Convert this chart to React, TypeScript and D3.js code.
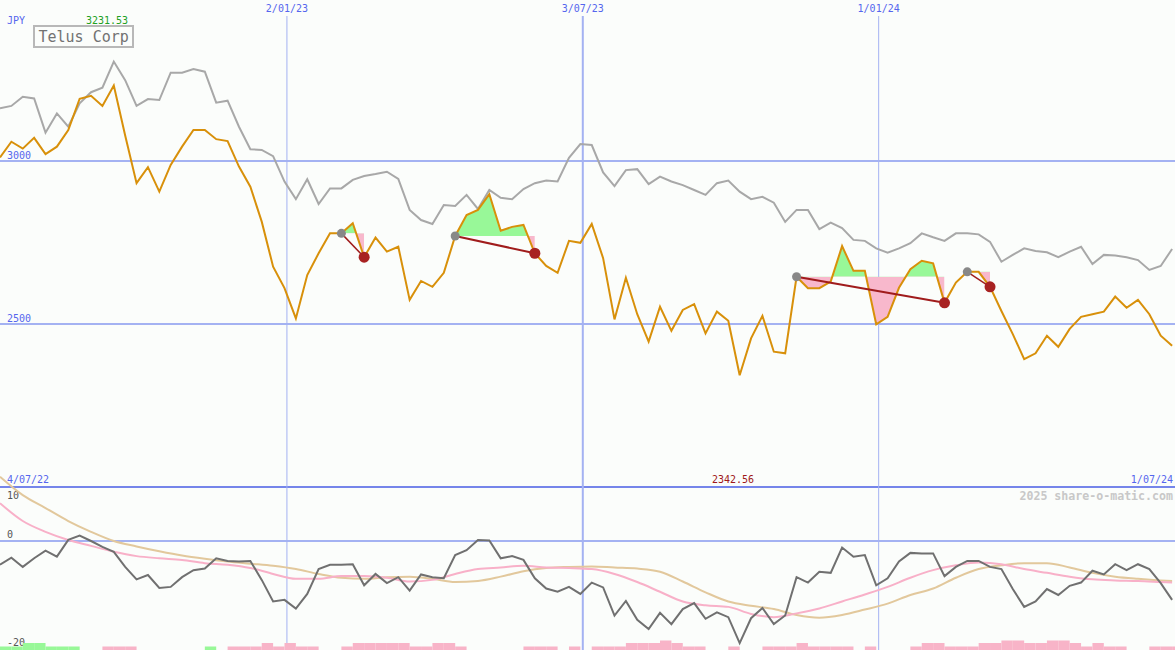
import React from "react";
import * as d3 from "d3";

// ---------- data ----------
const priceOrange = [3011,3059,3038,3071,3021,3044,3095,3191,3200,3169,
  3231.53,3078,2932,2981,2906,2988,3044,3095,3095,3067,
  3061,2983,2921,2814,2676,2610,2517,2650,2717,2778,
  2778,2809,2705,2765,2722,2737,2574,2632,2614,2657,
  2770,2834,2850,2898,2786,2798,2804,2717,2678,2657,
  2755,2749,2807,2702,2514,2642,2530,2446,2553,2479,
  2543,2561,2471,2538,2510,2342.56,2456,2525,2415,2410,
  2645,2610,2610,2630,2739,2663,2663,2499,2522,2611,
  2668,2694,2686,2565,2627,2660,2660,2614,2540,2469,
  2392,2410,2464,2430,2485,2522,2530,2538,2584,2550,
  2574,2530,2464,2433];

const relativeGray = [3162,3169,3197,3192,3087,3146,3105,3177,3211,3225,
  3305,3248,3169,3190,3187,3271,3271,3282,3274,3179,
  3185,3105,3036,3034,3015,2937,2883,2944,2868,2916,
  2916,2942,2954,2960,2967,2945,2850,2819,2807,2865,
  2862,2896,2853,2911,2887,2883,2914,2932,2940,2937,
  3010,3052,3049,2965,2923,2972,2975,2929,2952,2937,
  2926,2911,2896,2932,2940,2906,2883,2890,2872,2813,
  2850,2850,2791,2811,2794,2758,2755,2732,2719,2732,
  2748,2778,2766,2755,2778,2778,2775,2752,2691,2712,
  2732,2724,2720,2705,2722,2737,2684,2712,2710,2705,
  2696,2666,2678,2730];

const momentum = [-4.4,-3.1,-4.8,-3.2,-1.8,-2.9,0.2,1.0,0,-1.1,
  -2.0,-4.8,-7.1,-6.3,-8.7,-8.5,-6.7,-5.4,-5.1,-3.2,
  -3.7,-3.8,-3.7,-7.2,-11.2,-10.9,-12.5,-9.8,-5.2,-4.4,
  -4.4,-4.3,-8.2,-6.1,-7.8,-6.7,-9.2,-6.2,-6.7,-6.9,
  -2.6,-1.7,0.2,0.1,-3.2,-2.8,-3.5,-6.9,-8.8,-9.4,
  -8.5,-9.8,-7.7,-8.6,-13.8,-11.1,-14.6,-16.3,-13.3,-15.4,
  -12.6,-11.5,-14.4,-13.2,-14.1,-18.9,-14.3,-12.4,-15.4,-13.8,
  -6.7,-7.7,-5.7,-5.9,-1.2,-2.9,-2.6,-8.2,-6.9,-3.8,
  -2.2,-2.3,-2.3,-6.5,-4.8,-3.7,-3.7,-4.8,-5.2,-8.9,
  -12.2,-11.2,-8.9,-10.0,-8.3,-7.7,-5.5,-6.2,-4.3,-5.4,
  -4.3,-5.2,-7.8,-10.9];

// smoothed averages, read at every second week (plus the last week)
const smoothIndex = [0,2,4,6,8,10,12,14,16,18,20,22,24,26,28,30,32,34,36,38,40,42,44,46,48,50,
  52,54,56,58,60,62,64,66,68,70,72,74,76,78,80,82,84,86,88,90,92,94,96,98,100,102,103];
const avgPink = [7.0,3.7,1.7,0.2,-0.9,-2.0,-2.8,-3.2,-3.5,-4.1,
  -4.4,-5.0,-6.1,-7.0,-7.0,-6.5,-6.5,-6.8,-7.5,-7.2,
  -6.1,-5.2,-4.9,-4.6,-4.9,-5.0,-5.2,-6.1,-7.6,-9.4,
  -11.2,-11.9,-12.2,-13.5,-14.1,-13.4,-12.5,-11.2,-9.9,-8.5,
  -6.8,-5.4,-4.5,-4.0,-4.3,-5.2,-5.9,-6.6,-7.1,-7.3,
  -7.4,-7.6,-7.7];
const avgTan = [11.9,8.5,6.1,3.7,1.7,0.0,-1.0,-1.9,-2.7,-3.3,
  -3.8,-4.2,-4.6,-5.2,-6.1,-6.8,-7.0,-6.7,-6.6,-7.0,
  -7.6,-7.4,-6.6,-5.6,-5.0,-4.8,-4.7,-4.9,-5.1,-5.7,
  -7.5,-9.5,-11.2,-12.0,-12.6,-13.7,-14.2,-13.7,-12.7,-11.6,
  -10.0,-8.8,-6.8,-5.2,-4.5,-4.1,-4.1,-4.9,-5.9,-6.6,
  -7.0,-7.3,-7.4];

// signal bars: + green, - pink, magnitude 1..3
const signalBars = [1,1,2,2,1,1,1,0,0,-1,
  -1,-1,0,0,0,0,0,0,1,0,
  -1,-1,-1,-2,-1,-2,-1,-1,0,0,
  -1,-2,-2,-2,-2,-2,-1,-1,-2,-2,
  -1,0,0,0,0,0,-1,-1,-1,0,
  -1,0,-1,-1,-1,-2,-2,-2,-3,-2,
  -1,-1,0,0,-1,0,0,-1,-1,-1,
  -2,-1,-1,-1,-1,0,-1,0,0,0,
  -1,-2,-2,-1,-1,-1,-2,-2,-3,-3,
  -2,-2,-3,-3,-2,-1,-2,-1,-1,0,
  0,-1,-1,-1];

// trend patterns: [start week, end week]
const patterns: [number, number][] = [[30, 32], [40, 47], [70, 83], [85, 87]];

const gridDates = [new Date(2023, 0, 2), new Date(2023, 6, 3), new Date(2024, 0, 1)];
const gridLabels = ["2/01/23", "3/07/23", "1/01/24"];
const gridWidths = [1, 2, 1];
const priceTicks = [3000, 2500];
const lowTicks = [10, 0, -20];

const START = new Date(2022, 6, 9, 12);
const weekDates = priceOrange.map((_, i) => d3.timeDay.offset(START, 7 * i));

// ---------- chart ----------
const W = 1175, H = 650;
const BG = "#fbfdfb";
const GRID = "#a4b2f2";
const MONO = "DejaVu Sans Mono, monospace";

export default function App() {
  const x = d3.scaleTime().domain([START, weekDates[weekDates.length - 1]]).range([0, 1172.1]);
  const xi = (i: number) => x(d3.timeHour.offset(START, i * 7 * 24)) as number;
  const yMain = d3.scaleLinear().domain([2500, 3000]).range([324, 161]);
  const yLow = d3.scaleLinear().domain([-20, 10]).range([649, 487]);

  const mainLine = d3.line<number>().x((_, i) => xi(i)).y((d) => yMain(d));
  const lowLine = d3.line<number>().x((_, i) => xi(i)).y((d) => yLow(d));
  const smoothLine = d3.line<number>().x((_, k) => xi(smoothIndex[k])).y((d) => yLow(d)).curve(d3.curveMonotoneX);

  const barH = [0, 3.5, 7, 9.5];

  return (
    <svg width={W} height={H} style={{ position: "fixed", left: 0, top: 0, background: BG }}
      fontFamily={MONO}>
      <rect x={0} y={0} width={W} height={H} fill={BG} />
      <defs>
        {patterns.map(([s, e], k) => {
          const ly = yMain(priceOrange[s]);
          return (
            <React.Fragment key={k}>
              <clipPath id={`up${k}`}><rect x={xi(s)} y={0} width={xi(e) - xi(s)} height={ly} /></clipPath>
              <clipPath id={`dn${k}`}><rect x={xi(s)} y={ly} width={xi(e) - xi(s)} height={487 - ly} /></clipPath>
            </React.Fragment>
          );
        })}
      </defs>

      {/* horizontal grid */}
      {priceTicks.map((t) => (
        <g key={t}>
          <line x1={0} x2={W} y1={yMain(t)} y2={yMain(t)} stroke={GRID} strokeWidth={2} />
          <text x={7} y={yMain(t) - 2} fontSize={10} fill="#5566ee">{t}</text>
        </g>
      ))}
      <line x1={0} x2={W} y1={yLow(0)} y2={yLow(0)} stroke={GRID} strokeWidth={2} />
      <line x1={0} x2={W} y1={487} y2={487} stroke="#7585ea" strokeWidth={2} />

      {/* vertical grid */}
      {gridDates.map((d, k) => (
        <g key={k}>
          <line x1={x(d)} x2={x(d)} y1={16} y2={H} stroke={GRID} strokeWidth={gridWidths[k]} />
          <text x={x(d)} y={12} fontSize={10} fill="#5566ee" textAnchor="middle">{gridLabels[k]}</text>
        </g>
      ))}

      {/* pattern fills */}
      {patterns.map(([s, e], k) => {
        const lv = priceOrange[s];
        const idx = d3.range(s, e + 1);
        const area = d3.area<number>().x((i) => xi(i)).y0(yMain(lv)).y1((i) => yMain(priceOrange[i]));
        const dpath = area(idx) || "";
        return (
          <g key={k}>
            <path d={dpath} fill="#98f898" clipPath={`url(#up${k})`} />
            <path d={dpath} fill="#f8b8cc" clipPath={`url(#dn${k})`} />
          </g>
        );
      })}

      {/* main lines */}
      <path d={mainLine(relativeGray) || ""} fill="none" stroke="#a8a8a8" strokeWidth={2} />
      <path d={mainLine(priceOrange) || ""} fill="none" stroke="#d8900a" strokeWidth={2} />

      {/* trend lines & markers */}
      {patterns.map(([s, e], k) => (
        <g key={k}>
          <line x1={xi(s)} y1={yMain(priceOrange[s])} x2={xi(e)} y2={yMain(priceOrange[e])}
            stroke="#a01c1c" strokeWidth={k === 0 || k === 3 ? 1.5 : 2} />
          <circle cx={xi(s)} cy={yMain(priceOrange[s])} r={4.5} fill="#888888" />
          <circle cx={xi(e)} cy={yMain(priceOrange[e])} r={5.5} fill="#a82222" />
        </g>
      ))}

      {/* header labels */}
      <text x={7} y={24} fontSize={10} fill="#5566ee">JPY</text>
      <text x={86} y={24} fontSize={10} fill="#22a022">{d3.max(priceOrange)!.toFixed(2)}</text>
      <rect x={34} y={26} width={99} height={21} fill={BG} stroke="#b8b8b8" strokeWidth={2} />
      <text x={38.5} y={42} fontSize={15} fill="#727272">Telus Corp</text>

      {/* low panel labels */}
      <text x={7} y={483} fontSize={10} fill="#5566ee">4/07/22</text>
      <text x={1173} y={483} fontSize={10} fill="#5566ee" textAnchor="end">1/07/24</text>
      <text x={733} y={483} fontSize={10} fill="#a01818" textAnchor="middle">{d3.min(priceOrange)!.toFixed(2)}</text>
      <text x={1173} y={500} fontSize={11.6} fontWeight="bold" fill="#c8c8c8" textAnchor="end">2025 share-o-matic.com</text>
      {lowTicks.map((t, k) => (
        <text key={t} x={7} y={[499, 538, 646][k]} fontSize={10} fill="#555555">{t}</text>
      ))}

      {/* low panel lines */}
      <path d={smoothLine(avgTan) || ""} fill="none" stroke="#e2c89c" strokeWidth={2} />
      <path d={smoothLine(avgPink) || ""} fill="none" stroke="#f8b0c8" strokeWidth={2} />
      <path d={lowLine(momentum) || ""} fill="none" stroke="#707070" strokeWidth={2} />

      {/* signal bars */}
      {signalBars.map((v, i) => v === 0 ? null : (
        <rect key={i} x={xi(i)} width={xi(i + 1) - xi(i)} y={H - barH[Math.abs(v)]} height={barH[Math.abs(v)]}
          fill={v > 0 ? "#98f898" : "#f8b4c8"} />
      ))}
    </svg>
  );
}
